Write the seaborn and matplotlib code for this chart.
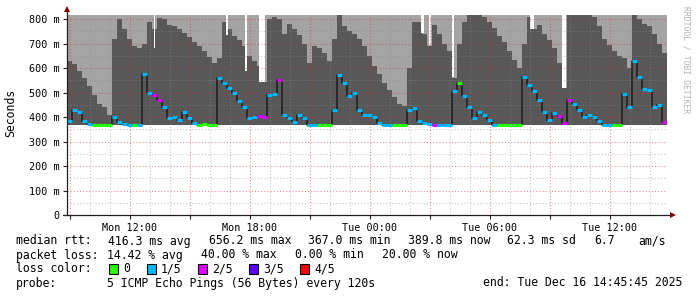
import numpy as np
import matplotlib
matplotlib.use("Agg")
import matplotlib.pyplot as plt
import seaborn as sns
from matplotlib.patches import Rectangle
from matplotlib.ticker import MultipleLocator, FixedLocator

# ---------------- data ----------------
start_hour = 8.85          # Mon 08:51, hours since Mon 00:00
step_hours = 0.25          # one sample every 15 min
base_rtt = 366             # lowest ping (bottom of the smoke), ms

# top of the dark (inner) smoke band, ms
dark_top = [
    630, 615, 590, 560, 525, 490, 455, 440, 410, 720,
    800, 760, 720, 690, 680, 700, 790, 760, 805, 800,
    775, 770, 760, 745, 725, 705, 690, 670, 645, 620,
    640, 790, 760, 730, 715, 690, 650, 630, 610, 545,
    800, 810, 800, 740, 780, 760, 735, 700, 620, 690,
    680, 660, 630, 720, 815, 770, 750, 740, 720, 690,
    650, 610, 575, 540, 510, 480, 455, 445, 600, 790,
    790, 740, 690, 775, 740, 700, 670, 560, 700, 790,
    815, 815, 815, 810, 790, 765, 730, 705, 670, 635,
    600, 700, 810, 760, 775, 740, 715, 680, 620, 520,
    815, 815, 815, 815, 815, 810, 770, 720, 695, 670,
    650, 640, 600, 815, 800, 780, 770, 740, 700, 660,
]

# median rtt, ms
median = [
    385, 430, 420, 385, 370, 367, 367, 367, 367, 400,
    380, 370, 367, 367, 367, 575, 500, 490, 470, 440,
    395, 400, 390, 420, 395, 375, 367, 372, 367, 367,
    560, 540, 520, 500, 465, 440, 395, 400, 405, 400,
    490, 495, 550, 410, 395, 380, 410, 395, 367, 367,
    367, 367, 367, 430, 570, 540, 485, 500, 430, 410,
    410, 400, 375, 367, 367, 367, 367, 367, 430, 435,
    385, 375, 370, 367, 367, 367, 367, 505, 540, 485,
    440, 395, 420, 410, 390, 367, 367, 367, 367, 367,
    367, 565, 530, 505, 470, 420, 390, 415, 405, 375,
    470, 455, 430, 400, 410, 400, 385, 367, 367, 367,
    367, 495, 440, 630, 565, 515, 510, 440, 450, 380,
]

# lost pings out of 5
loss = [
    1, 1, 1, 1, 1, 0, 0, 0, 0, 1,
    1, 1, 1, 0, 1, 1, 1, 2, 2, 1,
    1, 1, 1, 1, 1, 1, 0, 0, 0, 0,
    1, 1, 1, 1, 1, 1, 1, 1, 2, 2,
    1, 1, 2, 1, 1, 1, 1, 1, 1, 1,
    0, 0, 0, 1, 1, 1, 1, 1, 1, 1,
    1, 1, 1, 1, 1, 0, 0, 0, 1, 1,
    1, 1, 1, 2, 1, 1, 1, 1, 0, 1,
    1, 1, 1, 1, 1, 1, 0, 0, 0, 0,
    0, 1, 1, 1, 1, 1, 1, 1, 2, 2,
    2, 1, 1, 1, 1, 1, 1, 1, 1, 0,
    0, 1, 1, 1, 1, 1, 1, 1, 1, 2,
]

# short moments where even the slowest ping stayed below the top
dip_hours = [13.225, 16.85, 17.8, 18.6, 26.625, 27.0, 28.15, 32.1, 33.7]
dip_widths = [0.075, 0.1, 0.1, 0.3, 0.15, 0.1, 0.1, 0.2, 0.2]
dip_values = [680, 735, 590, 545, 743, 694, 563, 760, 520]

y_ticks = [0, 100, 200, 300, 400, 500, 600, 700, 800]
y_labels = ["0", "100 m", "200 m", "300 m", "400 m", "500 m", "600 m", "700 m", "800 m"]
x_tick_hours = [12, 18, 24, 30, 36]
x_tick_labels = ["Mon 12:00", "Mon 18:00", "Tue 00:00", "Tue 06:00", "Tue 12:00"]

loss_labels = ["0", "1/5", "2/5", "3/5", "4/5"]
loss_colors = ["#26ff00", "#00b8ff", "#dd00ff", "#5e00ff", "#ff0000"]

stats_rtt = ["median rtt:", "416.3 ms avg", "656.2 ms max", "367.0 ms min",
             "389.8 ms now", "62.3 ms sd", "6.7", "am/s"]
stats_loss = ["packet loss:", "14.42 % avg", "40.00 % max", "0.00 % min", "20.00 % now"]
probe_text = ["probe:", "5 ICMP Echo Pings (56 Bytes) every 120s"]
end_text = "end: Tue Dec 16 14:45:45 2025"
watermark = "RRDTOOL / TOBI OETIKER"

# ---------------- figure ----------------
sns.set_theme(style="white")
plt.rcParams["font.family"] = ["DejaVu Sans Mono", "DejaVu Sans"]

W, H = 697, 297
fig = plt.figure(figsize=(W / 100, H / 100), dpi=100)
fig.patch.set_facecolor("white")
y_top = 818.4
ax = fig.add_axes([67 / W, 82 / H, 600 / W, (215 - 14.6) / H])
ax.set_facecolor("white")

n = len(median)
t = start_hour + step_hours * np.arange(n)
t_edges = np.append(t, t[-1] + step_hours)
d_ext = np.append(dark_top, dark_top[-1])
m_ext = np.append(median, median[-1])

ax.set_xlim(start_hour, t_edges[-1])
ax.set_ylim(0, y_top)

# smoke: outer band (light) and inner band (dark)
ax.fill_between(t_edges, base_rtt, y_top + 50, step="post", color="#a4a4a4", lw=0, zorder=1)
ax.fill_between(t_edges, base_rtt, d_ext, step="post", color="#585858", lw=0, zorder=1.1)
ax.bar(dip_hours, [y_top + 50 - v for v in dip_values], bottom=dip_values,
       width=dip_widths, color="white", lw=0, zorder=1.2, align="center")

# median line: dark connector + loss coloured segments
sns.lineplot(x=t_edges, y=m_ext, drawstyle="steps-post", color="#1c1c1c",
             lw=1.1, ax=ax, zorder=2.8, legend=False, estimator=None)
loss_arr = np.array(loss)
med_arr = np.array(median)
for lv, col in enumerate(loss_colors):
    mask = loss_arr == lv
    if mask.any():
        ax.hlines(med_arr[mask], t[mask], t[mask] + step_hours, colors=col,
                  lw=2.2, zorder=3)

# grid
ax.yaxis.set_major_locator(FixedLocator(y_ticks))
ax.yaxis.set_minor_locator(MultipleLocator(50))
ax.xaxis.set_major_locator(MultipleLocator(3))
ax.xaxis.set_minor_locator(MultipleLocator(1))
ax.set_axisbelow(False)
ax.grid(which="major", color="#de3030", alpha=0.6, lw=0.75, ls=(0, (1, 2)), zorder=2.5)
ax.grid(which="minor", color="#8f8f8f", alpha=0.55, lw=0.75, ls=(0, (1, 2)), zorder=2.5)

ax.set_yticklabels(y_labels)
major_x = ax.get_xticks()
ax.set_xticklabels([x_tick_labels[x_tick_hours.index(int(round(v)))]
                    if int(round(v)) in x_tick_hours else "" for v in major_x])
ax.tick_params(axis="both", which="major", length=3, width=0.8, color="#202020",
               labelsize=7.3, pad=2.5, labelcolor="#000000")
ax.tick_params(axis="x", which="major", pad=3)
ax.tick_params(axis="both", which="minor", length=0)
ax.tick_params(axis="y", which="major", left=True)
ax.tick_params(axis="x", which="major", bottom=True)
ax.set_xlabel("")
ax.set_ylabel("")
for s in ax.spines.values():
    s.set_visible(False)

# axes with arrows
ax.plot([0, 0], [0, 1.03], transform=ax.transAxes, color="#202020", lw=0.9,
        clip_on=False, zorder=4)
ax.plot([-0.006, 1.008], [0, 0], transform=ax.transAxes, color="#202020", lw=0.9,
        clip_on=False, zorder=4)
ax.plot([0], [1.03], transform=ax.transAxes, marker="^", ms=4, color="#7f0000",
        clip_on=False, zorder=5, mew=0)
ax.plot([1.01], [0], transform=ax.transAxes, marker=">", ms=4, color="#7f0000",
        clip_on=False, zorder=5, mew=0)

# labels
fig.text(11 / W, 1 - 113 / H, "Seconds", rotation=90, ha="center", va="center",
         fontsize=8.3, color="black")
fig.text(686 / W, 1 - 60 / H, watermark, rotation=270, ha="center", va="center",
         fontsize=5.8, color="#b4b4b4")

fs = 8.3
def put(x, y, s, ha="left"):
    fig.text(x / W, 1 - y / H, s, ha=ha, va="center", fontsize=fs, color="black")

for x, s in zip([16, 108, 209, 308, 408, 507, 594, 638], stats_rtt):
    put(x, 241, s)
for x, s in zip([16, 107, 201, 295, 382], stats_loss):
    put(x, 255, s)
put(16, 269, "loss color:")
for x, lab, col in zip([109, 147, 198, 249, 300], loss_labels, loss_colors):
    fig.add_artist(Rectangle((x / W, 1 - 274 / H), 9 / W, 10 / H,
                             transform=fig.transFigure, facecolor=col,
                             edgecolor="black", lw=0.8))
    put(x + 14, 269, lab)
put(16, 283, probe_text[0])
put(107, 283, probe_text[1])
put(682, 283, end_text, ha="right")

fig.savefig("out.png", dpi=100, facecolor="white")
